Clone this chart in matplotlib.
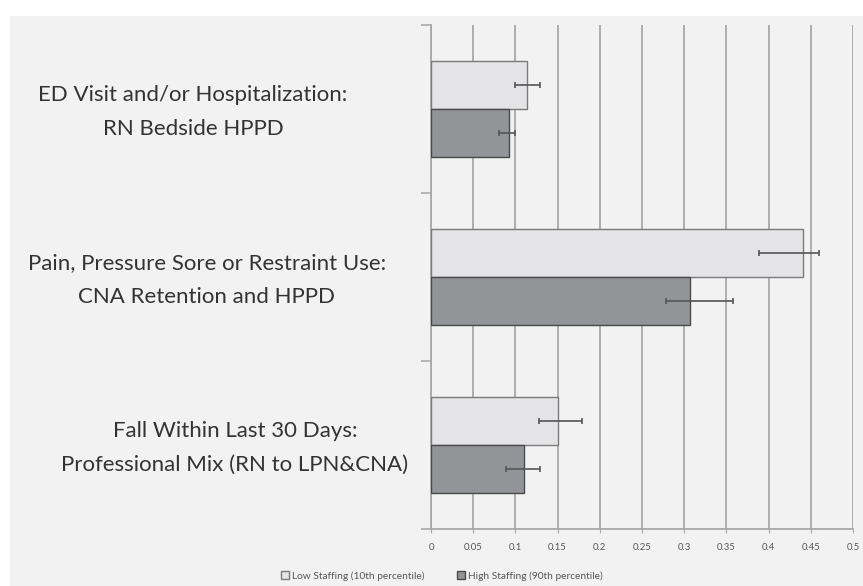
import matplotlib.pyplot as plt
from matplotlib.patches import Rectangle
import numpy as np

# staffing outcome data (probability of outcome)
categories = [
    'ED Visit and/or Hospitalization:\nRN Bedside HPPD',
    'Pain, Pressure Sore or Restraint Use:\nCNA Retention and HPPD',
    'Fall Within Last 30 Days:\nProfessional Mix (RN to LPN&CNA)',
]
low_vals = [0.114, 0.441, 0.151]
low_ci_lo = [0.100, 0.389, 0.128]
low_ci_hi = [0.129, 0.460, 0.179]
high_vals = [0.092, 0.307, 0.110]
high_ci_lo = [0.080, 0.278, 0.089]
high_ci_hi = [0.100, 0.358, 0.129]
xticks = [0, 0.05, 0.1, 0.15, 0.2, 0.25, 0.3, 0.35, 0.4, 0.45, 0.5]
series_names = ['Low Staffing (10th percentile)', 'High Staffing (90th percentile)']

plt.rcParams['font.family'] = ['Lato', 'DejaVu Sans']

W, H = 863, 586
fig = plt.figure(figsize=(W / 100, H / 100), dpi=100)
fig.patch.set_facecolor('white')
# grey chart area
fig.patches.append(Rectangle((10 / W, 0), 1, 1 - 16 / H, transform=fig.transFigure,
                             facecolor='#f2f2f2', edgecolor='none', zorder=-10))

ax = fig.add_axes([431 / W, 1 - 529 / H, (853 - 431) / W, (529 - 25) / H])
ax.set_facecolor('none')

y = np.arange(len(categories))
h = 0.286
low = np.array(low_vals)
high = np.array(high_vals)
low_err = [low - np.array(low_ci_lo), np.array(low_ci_hi) - low]
high_err = [high - np.array(high_ci_lo), np.array(high_ci_hi) - high]

ax.barh(y - h / 2, low, height=h, color='#e4e4e6', edgecolor='#7a7a7a',
        linewidth=1.0, zorder=3, label=series_names[0])
ax.barh(y + h / 2, high, height=h, color='#939497', edgecolor='#4a4a4a',
        linewidth=1.0, zorder=3, label=series_names[1])
ax.errorbar(low, y - h / 2, xerr=low_err, fmt='none', ecolor='#555555',
            elinewidth=1.2, capsize=2.5, capthick=1.2, zorder=4)
ax.errorbar(high, y + h / 2, xerr=high_err, fmt='none', ecolor='#555555',
            elinewidth=1.2, capsize=2.5, capthick=1.2, zorder=4)

ax.set_xlim(0, 0.5)
ax.set_ylim(len(categories) - 0.5, -0.5)
ax.set_xticks(xticks)
ax.set_xticklabels([f'{t:g}' for t in xticks])
ax.set_yticks(np.arange(len(categories) + 1) - 0.5)
ax.set_yticklabels([])
ax.xaxis.grid(True, color='#a8a8a8', linewidth=1.3, zorder=1)
ax.tick_params(axis='x', direction='out', length=3, color='#a8a8a8',
               labelsize=6.8, labelcolor='#555555', pad=7)
ax.tick_params(axis='y', direction='out', length=7, color='#a8a8a8', width=1.2)
for s in ['top', 'right']:
    ax.spines[s].set_visible(False)
for s in ['left', 'bottom']:
    ax.spines[s].set_color('#a8a8a8')
    ax.spines[s].set_linewidth(1.3)

# category labels, centred in the left margin
label_x = [193, 207, 235]
for i, txt in enumerate(categories):
    ax.annotate(txt, xy=(label_x[i], y[i]), xycoords=('figure pixels', 'data'),
                xytext=(0, -3), textcoords='offset pixels',
                ha='center', va='center', fontsize=16, color='#333333',
                linespacing=1.85, annotation_clip=False)

fig.legend(loc='center', bbox_to_anchor=(442 / W, 1 - 576 / H), ncol=2,
           frameon=False, fontsize=7.3, handlelength=0.8, handleheight=0.8,
           handletextpad=0.3, columnspacing=3.2, labelcolor='#555555')

fig.savefig('out.png', dpi=100)
